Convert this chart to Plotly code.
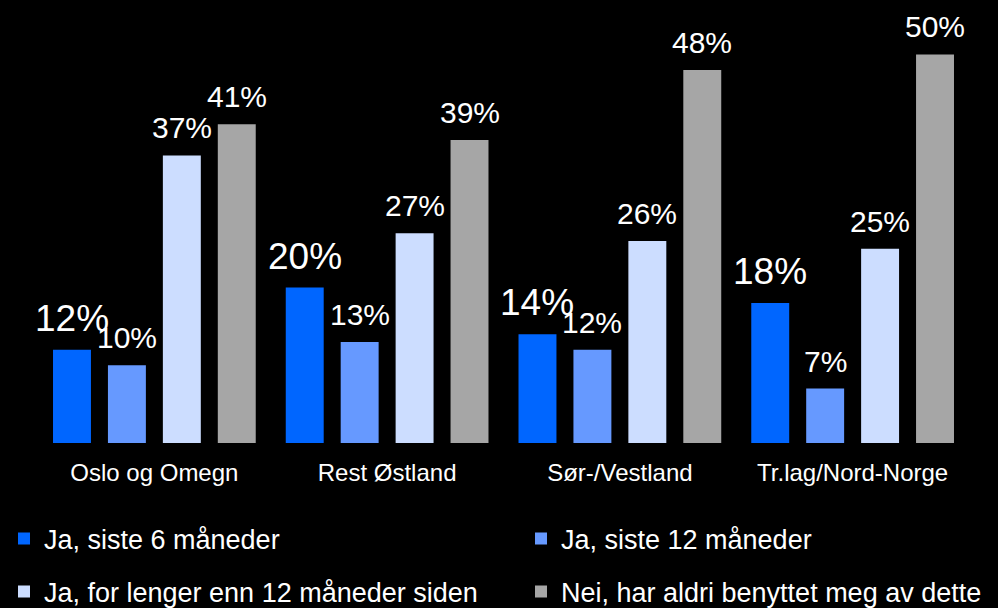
import plotly.graph_objects as go

# Regions (x categories)
regions = ["Oslo og Omegn", "Rest Østland", "Sør-/Vestland", "Tr.lag/Nord-Norge"]

# Series names
series_names = [
    "Ja, siste 6 måneder",
    "Ja, siste 12 måneder",
    "Ja, for lenger enn 12 måneder siden",
    "Nei, har aldri benyttet meg av dette",
]

# Percentages per region
siste_6 = [12, 20, 14, 18]
siste_12 = [10, 13, 12, 7]
lenger_enn_12 = [37, 27, 26, 25]
aldri = [41, 39, 48, 50]

series_values = [siste_6, siste_12, lenger_enn_12, aldri]
colors = ["#0066FF", "#6699FF", "#CCDDFF", "#A6A6A6"]
label_sizes = [37, 30, 30, 30]

FONT = "Arial, 'Liberation Sans', sans-serif"
SLOT = 0.236      # distance between bars inside a group (category units)
BAR_W = 0.163     # bar width (category units)
n_series = len(series_values)

# Legend grid: two columns, two rows (container fractions)
legend_cols = [4 / 998, 521 / 998]
legend_rows = [1 - 539 / 608, 1 - 592 / 608]
legend_ids = ["legend", "legend2", "legend3", "legend4"]

fig = go.Figure()
annotations = []
for j, (name, vals, col) in enumerate(zip(series_names, series_values, colors)):
    off = (j - (n_series - 1) / 2) * SLOT
    xs = [i + off for i in range(len(regions))]
    fig.add_trace(go.Bar(
        x=xs, y=vals, width=BAR_W, name=name,
        marker=dict(color=col, line=dict(width=0)),
        legend=legend_ids[j],
        hoverinfo="skip",
    ))
    for x, v in zip(xs, vals):
        annotations.append(dict(
            x=x, y=v, xref="x", yref="y", text=f"{v}%", showarrow=False,
            yanchor="bottom", xanchor="center", yshift=9,
            font=dict(family=FONT, size=label_sizes[j], color="white"),
        ))

legend_layout = {}
for j, lid in enumerate(legend_ids):
    legend_layout[lid] = dict(
        orientation="h", xref="container", yref="container",
        x=legend_cols[j % 2], y=legend_rows[j // 2],
        xanchor="left", yanchor="middle",
        font=dict(family=FONT, size=27, color="white"),
        bgcolor="rgba(0,0,0,0)", borderwidth=0,
    )

fig.update_layout(
    width=998, height=608,
    paper_bgcolor="black", plot_bgcolor="black",
    margin=dict(l=38, r=29, t=14, b=165),
    barmode="overlay",
    showlegend=True,
    xaxis=dict(
        range=[-0.5, len(regions) - 0.5],
        tickvals=list(range(len(regions))), ticktext=regions,
        tickfont=dict(family=FONT, size=24, color="white"),
        showgrid=False, zeroline=False, showline=False, ticks="",
        ticklabelstandoff=13,
    ),
    yaxis=dict(range=[0, 55.2], visible=False, showgrid=False, zeroline=False),
    annotations=annotations,
    font=dict(family=FONT, color="white"),
    **legend_layout,
)

fig.write_html("out.html")
